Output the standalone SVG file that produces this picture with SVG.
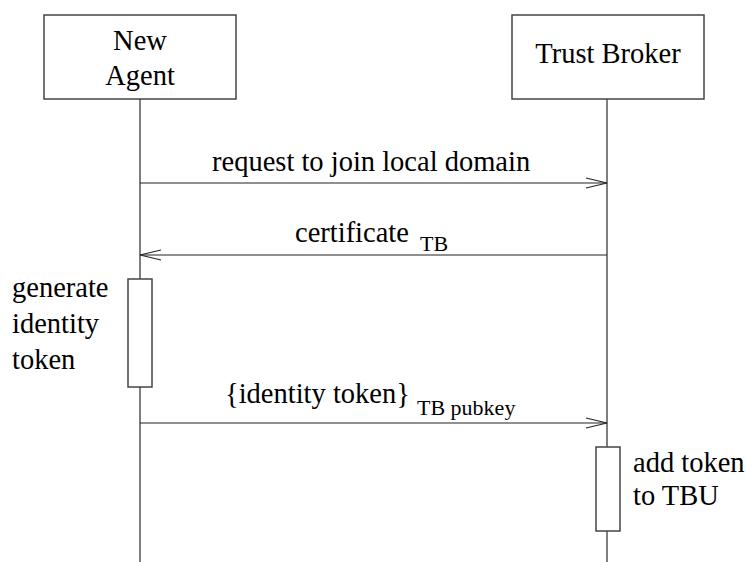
<svg xmlns="http://www.w3.org/2000/svg" width="746" height="562" viewBox="0 0 746 562" font-family="'Liberation Serif', 'Times New Roman', Times, serif">
  <style>
    .box { fill: #fff; stroke: #444; stroke-width: 1.5; }
    .life { stroke: #555; stroke-width: 1.5; fill: none; }
    .msg { stroke: #222; stroke-width: 1.2; fill: none; }
    .head { stroke: #222; stroke-width: 1.2; fill: none; }
    .lbl { font-size: 28.5px; fill: #000; }
    .sub { font-size: 22px; fill: #000; }
  </style>
  <rect width="746" height="562" fill="#fff"/>

  <!-- lifelines -->
  <g id="lifelines">
    <line class="life" x1="140" y1="99" x2="140" y2="562"/>
    <line class="life" x1="607" y1="99" x2="607" y2="562"/>
  </g>

  <g id="new-agent">
    <rect class="box" x="44" y="15" width="192" height="84"/>
    <text class="lbl" x="140" y="50" text-anchor="middle">New</text>
    <text class="lbl" x="140" y="85" text-anchor="middle">Agent</text>
  </g>

  <g id="trust-broker">
    <rect class="box" x="512" y="15" width="192" height="84"/>
    <text class="lbl" x="608" y="63" text-anchor="middle">Trust Broker</text>
  </g>

  <g id="generate-token">
    <rect class="box" x="128" y="279" width="24" height="108"/>
    <text class="lbl" x="12" y="297">generate</text>
    <text class="lbl" x="12" y="333">identity</text>
    <text class="lbl" x="12" y="369">token</text>
  </g>

  <g id="add-token">
    <rect class="box" x="596" y="447" width="24" height="84"/>
    <text class="lbl" x="633" y="472">add token</text>
    <text class="lbl" x="633" y="505">to TBU</text>
  </g>

  <!-- messages -->
  <g id="connectors">
    <line class="msg" x1="140" y1="183" x2="607" y2="183"/>
    <polyline class="head" points="586,178 607,183 586,188"/>
    <text class="lbl" x="212" y="171">request to join local domain</text>

    <line class="msg" x1="607" y1="255" x2="140" y2="255"/>
    <polyline class="head" points="161,250 140,255 161,260"/>
    <text class="lbl" x="295" y="242">certificate</text>
    <text class="sub" x="420" y="251">TB</text>

    <line class="msg" x1="140" y1="423" x2="607" y2="423"/>
    <polyline class="head" points="586,418 607,423 586,428"/>
    <text class="lbl" x="225" y="403">{identity token}</text>
    <text class="sub" x="417" y="415">TB pubkey</text>
  </g>
</svg>
